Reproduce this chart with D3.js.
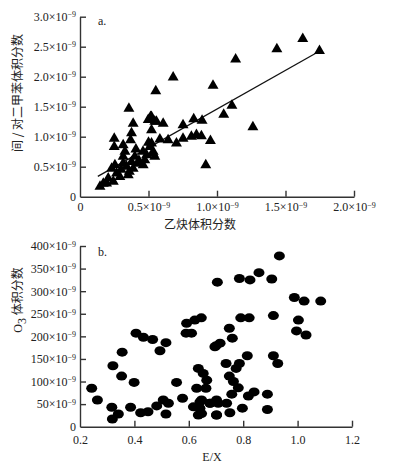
<!DOCTYPE html>
<html>
<head>
<meta charset="utf-8">
<script src="https://cdn.jsdelivr.net/npm/d3@7"></script>
<style>
  body { margin: 0; background: #fff; }
  svg { display: block; }
  .tick text { font-family: "Liberation Serif", "Times New Roman", serif; font-size: 12px; fill: #222; }
  .cjk { font-family: "Noto Sans CJK SC", sans-serif; font-size: 12px; fill: #222; }
  .serif { font-family: "Liberation Serif", serif; font-size: 12px; fill: #222; }
</style>
</head>
<body>
<svg id="chart" width="393" height="469"></svg>
<script>
// panel a: acetylene (x, 1e-9) vs m/p-xylene (y, 1e-9)
const acetylene = [1.626, 1.437, 1.748, 1.136, 0.68, 0.971, 0.553, 1.109, 1.049, 1.262,
  0.83, 0.891, 0.752, 0.607, 0.522, 0.546, 0.813, 0.85, 0.886, 0.752, 0.704, 0.643, 0.583,
  0.952, 0.918, 0.522, 0.534, 0.357, 0.515, 0.388, 0.498, 0.558, 0.522, 0.376, 0.25, 0.369,
  0.25, 0.315, 0.51, 0.408, 0.328, 0.534, 0.486, 0.4, 0.315, 0.546, 0.473, 0.376, 0.315,
  0.255, 0.231, 0.388, 0.34, 0.461, 0.267, 0.352, 0.291, 0.206, 0.194, 0.146, 0.243, 0.17,
  0.43, 0.46, 0.36, 0.3, 0.5, 0.42];
const xylene = [2.63, 2.46, 2.43, 2.29, 1.99, 1.85, 1.76, 1.52, 1.37, 1.16,
  1.295, 1.27, 1.195, 1.22, 1.33, 1.25, 1.0, 1.03, 1.01, 0.97, 0.89, 0.945, 0.957,
  0.933, 0.528, 0.89, 0.75, 1.47, 1.33, 1.22, 1.28, 1.25, 1.11, 1.06, 0.97, 0.945,
  0.83, 0.86, 0.83, 0.79, 0.75, 0.72, 0.695, 0.667, 0.667, 0.667, 0.61, 0.583, 0.556,
  0.528, 0.47, 0.47, 0.5, 0.528, 0.39, 0.36, 0.33, 0.307, 0.223, 0.167, 0.25, 0.22,
  0.6, 0.75, 0.42, 0.45, 0.9, 0.55];
const fitSlope = 1.29;
const fitIntercept = 0.17;
const fitRange = [0.13, 1.75];
const aXTicks = [0, 0.5, 1.0, 1.5, 2.0];
const aYTicks = [0, 0.5, 1.0, 1.5, 2.0, 2.5, 3.0];

// panel b: E/X vs O3 (1e-9)
const ex = [0.705, 0.243, 0.264, 0.317, 0.319, 0.341, 0.321, 0.353, 0.355, 0.399, 0.386,
  0.406, 0.433, 0.467, 0.516, 0.494, 0.423, 0.45, 0.482, 0.506, 0.525, 0.516, 0.555, 0.577,
  0.592, 0.59, 0.61, 0.622, 0.646, 0.635, 0.653, 0.666, 0.629, 0.663, 0.617, 0.641, 0.635,
  0.678, 0.702, 0.702, 0.7, 0.933, 0.786, 0.825, 0.858, 0.905, 0.988, 1.024, 1.085, 0.791,
  0.822, 0.911, 1.003, 0.996, 1.031, 0.749, 0.76, 0.696, 0.715, 0.815, 0.911, 0.927, 0.737,
  0.786, 0.774, 0.749, 0.764, 0.782, 0.758, 0.819, 0.84, 0.889, 0.647, 0.678, 0.708, 0.739,
  0.702, 0.751, 0.797, 0.889, 0.641, 0.647];
const o3 = [320, 85, 59, 43, 17, 28, 135, 112, 165, 98, 43,
  207, 198, 193, 186, 168, 31, 33, 46, 59, 52, 28, 98, 63,
  229, 207, 207, 236, 241, 129, 118, 103, 85, 85, 44, 55, 26,
  52, 59, 26, 179, 378, 328, 325, 341, 327, 286, 278, 278, 241,
  241, 246, 236, 212, 203, 218, 196, 177, 185, 157, 157, 140, 140,
  140, 129, 112, 100, 86, 72, 68, 77, 72, 59, 52, 52, 52,
  26, 31, 41, 38, 41, 29];
const bXTicks = [0.2, 0.4, 0.6, 0.8, 1.0, 1.2];
const bYTicks = [0, 50, 100, 150, 200, 250, 300, 350, 400];

const svg = d3.select("#chart");

// tick label "a×10^-9"
function sciLabel(sel, fmt) {
    sel.each(function(d) {
        const t = d3.select(this);
        t.text(null);
        if (d === 0) { t.text("0"); return; }
        t.append("tspan").text(fmt(d) + "×10");
        t.append("tspan").attr("dy", "-0.45em").attr("font-size", "8px").text("−9");
    });
}

function styleAxis(g) {
    g.select(".domain").attr("stroke", "#333").attr("stroke-width", 1.4);
    g.selectAll(".tick line").attr("stroke", "#333").attr("stroke-width", 1.4);
}

// ---------- panel a ----------
const xa = d3.scaleLinear().domain([0, 2.0]).range([80, 354]);
const ya = d3.scaleLinear().domain([0, 3.0]).range([196.7, 16.7]);

const ga = svg.append("g");
const axA = ga.append("g").attr("transform", "translate(0,196.7)")
    .call(d3.axisBottom(xa).tickValues(aXTicks).tickSizeInner(-6).tickSizeOuter(0).tickPadding(6));
styleAxis(axA);
axA.selectAll(".tick text").call(sciLabel, d3.format(".1f"));
axA.selectAll(".tick").filter(d => d === 0).select("line").remove();

const ayA = ga.append("g").attr("transform", "translate(80,0)")
    .call(d3.axisLeft(ya).tickValues(aYTicks).tickSizeInner(-6).tickSizeOuter(0).tickPadding(4));
styleAxis(ayA);
ayA.selectAll(".tick text").call(sciLabel, d3.format(".1f"));
ayA.selectAll(".tick").filter(d => d === 0).select("line").remove();

ga.append("line")
    .attr("x1", xa(fitRange[0])).attr("y1", ya(fitIntercept + fitSlope * fitRange[0]))
    .attr("x2", xa(fitRange[1])).attr("y2", ya(fitIntercept + fitSlope * fitRange[1]))
    .attr("stroke", "#111").attr("stroke-width", 1.3);

const tri = d3.symbol().type(d3.symbolTriangle).size(52);
ga.selectAll(".tri")
    .data(acetylene.map((v, i) => [v, xylene[i]]))
    .enter().append("path")
    .attr("class", "tri")
    .attr("d", tri)
    .attr("transform", d => "translate(" + xa(d[0]) + "," + ya(d[1]) + ")")
    .attr("fill", "#000");

ga.append("text").attr("class", "serif").attr("x", 98).attr("y", 25).text("a.");
ga.append("text").attr("class", "cjk").attr("x", 200).attr("y", 229)
    .attr("text-anchor", "middle").text("乙炔体积分数");
ga.append("text").attr("class", "cjk")
    .attr("transform", "translate(22,93) rotate(-90)")
    .attr("text-anchor", "middle").text("间 / 对二甲苯体积分数");

// ---------- panel b ----------
const xb = d3.scaleLinear().domain([0.2, 1.2]).range([80, 352]);
const yb = d3.scaleLinear().domain([0, 400]).range([426.7, 246]);

const gb = svg.append("g");
const axB = gb.append("g").attr("transform", "translate(0,426.7)")
    .call(d3.axisBottom(xb).tickValues(bXTicks).tickSizeInner(-6).tickSizeOuter(0).tickPadding(9)
        .tickFormat(d3.format(".1f")));
styleAxis(axB);
axB.selectAll(".tick").filter(d => d === 0.2).select("line").remove();

const ayB = gb.append("g").attr("transform", "translate(80,0)")
    .call(d3.axisLeft(yb).tickValues(bYTicks).tickSizeInner(-6).tickSizeOuter(0).tickPadding(4));
styleAxis(ayB);
ayB.selectAll(".tick text").each(function(d) {
    const t = d3.select(this);
    t.text(null);
    if (d === 0) { t.text("0"); return; }
    t.append("tspan").text(d + "×10");
    t.append("tspan").attr("dy", "-0.45em").attr("font-size", "8px").text("−9");
});
ayB.selectAll(".tick").filter(d => d === 0).select("line").remove();

gb.selectAll(".dot")
    .data(ex.map((v, i) => [v, o3[i]]))
    .enter().append("ellipse")
    .attr("class", "dot")
    .attr("cx", d => xb(d[0]))
    .attr("cy", d => yb(d[1]))
    .attr("rx", 5.5).attr("ry", 4.5)
    .attr("fill", "#000");

gb.append("text").attr("class", "serif").attr("x", 98).attr("y", 256).text("b.");
gb.append("text").attr("class", "serif").attr("x", 212).attr("y", 461)
    .attr("text-anchor", "middle").text("E/X");
const yl = gb.append("text").attr("class", "cjk")
    .attr("transform", "translate(22,300) rotate(-90)")
    .attr("text-anchor", "middle");
yl.append("tspan").attr("class", "serif").text("O");
yl.append("tspan").attr("class", "serif").attr("font-size", "8px").attr("dy", "0.3em").text("3");
yl.append("tspan").attr("dy", "-0.3em").text(" 体积分数");
</script>
</body>
</html>
